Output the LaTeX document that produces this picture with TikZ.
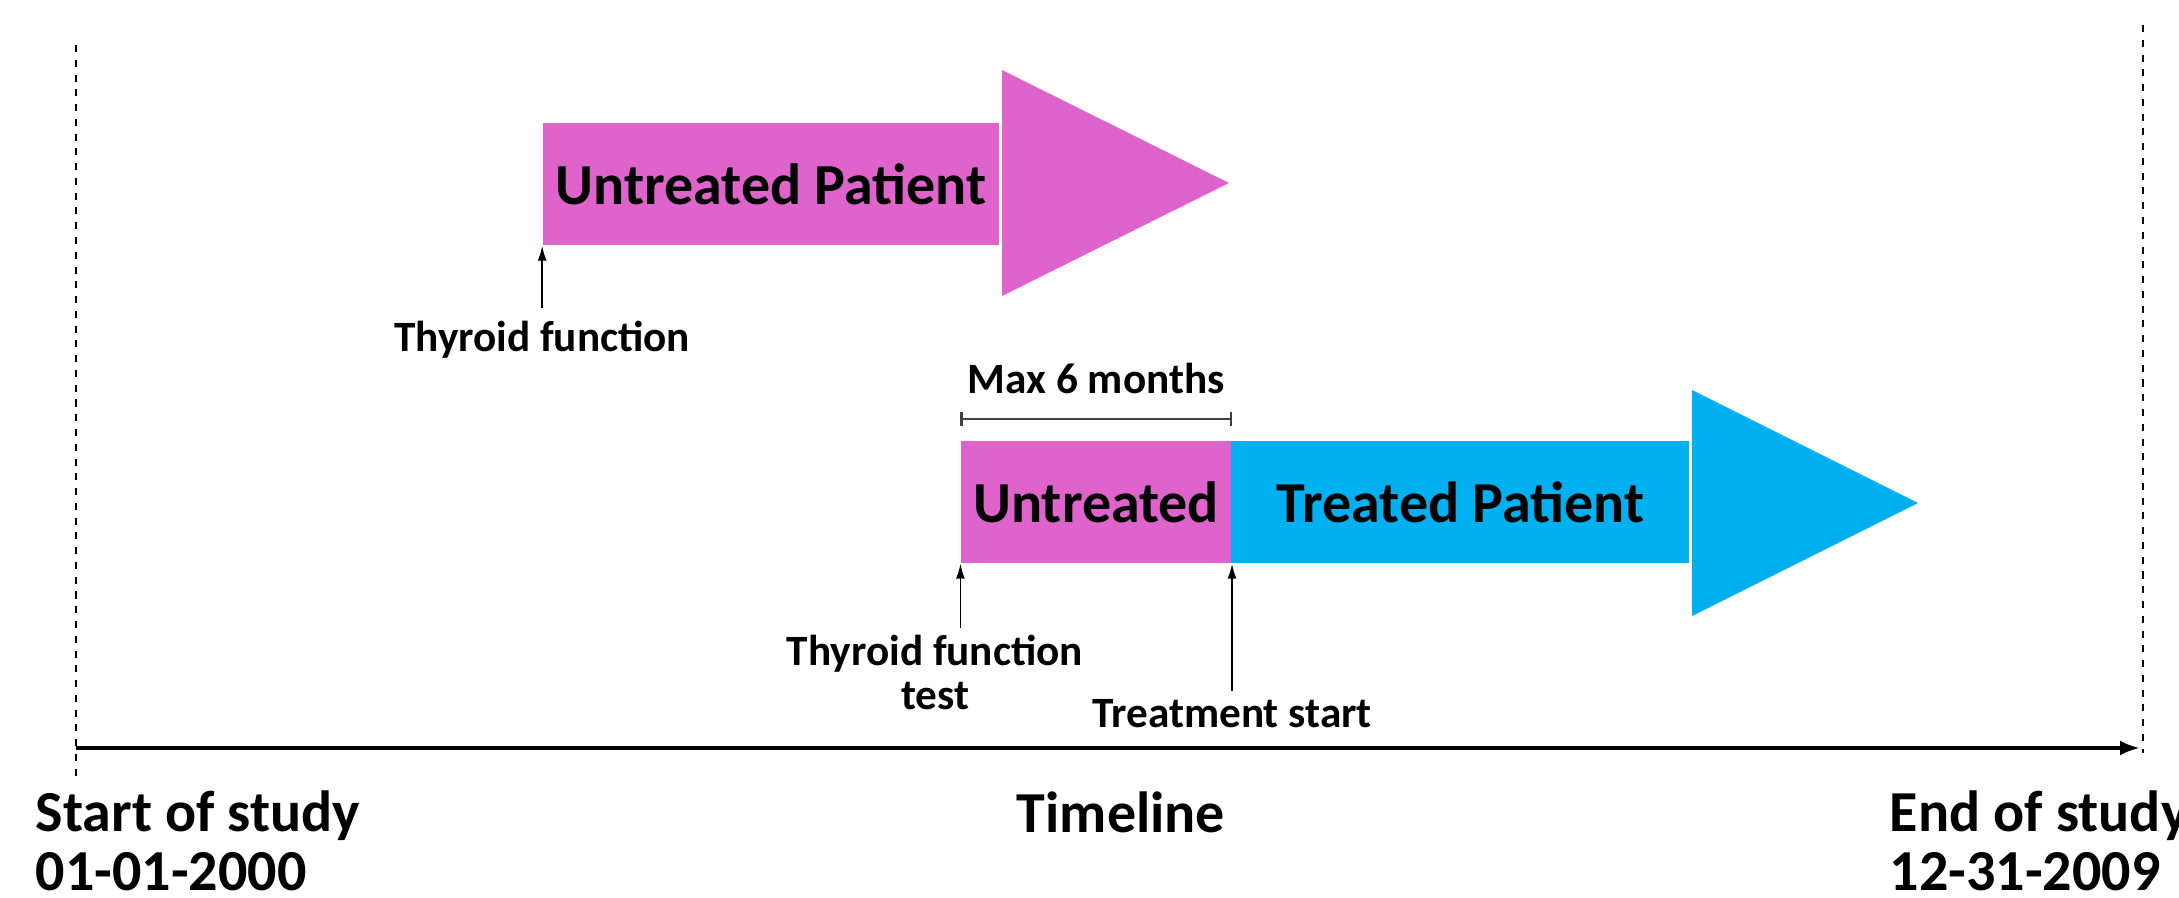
\documentclass[tikz,border=0pt]{standalone}
\usepackage{fontspec}
\setmainfont{Carlito}
\usepackage{tikz}
\usetikzlibrary{arrows.meta,%
                positioning}
\definecolor{orchid}{RGB}{222,99,202}
\definecolor{skyblue}{RGB}{0,176,240}

\begin{document}
\begin{tikzpicture}[x=0.01cm,y=-0.01cm]
		\tikzstyle{TitleStyle}=[font=\bfseries\fontsize{16.5}{16.5}\selectfont,inner sep=0pt,align=left]
		\tikzstyle{NoteStyle}=[font=\bfseries\fontsize{12.3}{12.5}\selectfont,inner sep=0pt,align=center]
		\tikzstyle{BoxStyle}=[minimum height=1.22cm,inner sep=0pt,font=\bfseries\fontsize{16.5}{16.5}\selectfont]
		\tikzstyle{PointerStyle}=[line width=0.45pt,-{Latex[length=0.15cm,width=0.09cm]}]
		\tikzstyle{StudyStyle}=[line width=0.6pt,dash pattern=on 2pt off 2.2pt]
		\useasboundingbox (0,0) rectangle (2179,898);
		% patient without treatment
		\node[BoxStyle,fill=orchid,minimum width=4.56cm] (U) at (771,184) {Untreated Patient};
		\fill[orchid] (1002,70) -- (1229,183) -- (1002,296) -- cycle;
		\node[NoteStyle,below=0.75cm of U.south west] (F) {Thyroid function};
		\draw[PointerStyle] ([yshift=0.13cm]F.north) -- (U.south west);
		% patient with treatment
		\node[BoxStyle,fill=skyblue,minimum width=4.6cm] (T) at (1459,502) {\hspace{0.03cm}Treated Patient};
		\node[BoxStyle,fill=orchid,minimum width=2.7cm,anchor=east] (V) at (1232,502) {Untreated};
		\fill[skyblue] (1692,390) -- (1918,503) -- (1692,616) -- cycle;
		\draw[line width=0.6pt,draw=black!75,{Bar[width=0.14cm]}-{Bar[width=0.14cm]}] ([yshift=0.21cm]V.north west) -- ([yshift=0.21cm]V.north east)
			node[NoteStyle,midway,above=0.24cm] (M) {Max 6 months};
		\node[NoteStyle,anchor=north] (G) at (935,634) {Thyroid function\\test};
		\coordinate (g) at ([yshift=-0.64cm]V.south west);
		\draw[PointerStyle] (g) -- (V.south west);
		\node[NoteStyle,below=1.35cm of V.south east] (S) {Treatment start};
		\draw[PointerStyle] ([yshift=0.08cm]S.north) -- (V.south east);
		% study period
		\coordinate (t0) at (76,748);
		\coordinate (t1) at (2140,748);
		\draw[StudyStyle] (76,45) -- (76,776);
		\draw[StudyStyle] (2143,25) -- (2143,753);
		\draw[line width=1.1pt,-{Latex[length=0.2cm,width=0.15cm]}] (t0) -- (t1);
		\node[TitleStyle,anchor=base west] (A) at (35,890) {Start of study\\01-01-2000};
		\node[TitleStyle,anchor=base] (L) at (1121,833) {Timeline};
		\node[TitleStyle,anchor=base west] (B) at (1889,890) {End of study\\12-31-2009};
	\end{tikzpicture}
\end{document}
